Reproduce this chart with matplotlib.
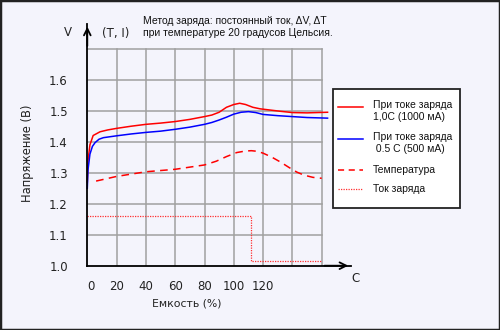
import matplotlib.pyplot as plt
from matplotlib.lines import Line2D
from matplotlib.patches import Rectangle

# Charge curves (capacity %, volts)
cap_fast = [0, 0.5, 1.8, 4, 8.7, 14, 20, 30, 40, 50, 60, 70, 80, 85, 90, 95, 100, 104, 108, 113, 118, 125, 132, 140, 150, 164]
volt_fast = [1.27, 1.34, 1.39, 1.42, 1.432, 1.438, 1.443, 1.45, 1.456, 1.46, 1.465, 1.472, 1.481, 1.486, 1.495, 1.511,
             1.520, 1.524, 1.52, 1.511, 1.506, 1.502, 1.498, 1.494, 1.493, 1.495]

cap_slow = [0, 0.5, 1.8, 3.5, 5.3, 8, 11, 20, 30, 40, 50, 60, 70, 80, 85, 90, 95, 100, 105, 110, 115, 120, 130, 140, 150, 164]
volt_slow = [1.25, 1.31, 1.36, 1.385, 1.397, 1.408, 1.413, 1.419, 1.425, 1.430, 1.434, 1.440, 1.447, 1.456, 1.462, 1.470,
             1.479, 1.489, 1.495, 1.497, 1.494, 1.488, 1.484, 1.481, 1.478, 1.476]

cap_temp = [6, 20, 40, 60, 80, 88, 95, 102, 108, 112, 116, 120, 126, 132, 138, 143, 148, 154, 160]
temp = [1.273, 1.288, 1.303, 1.311, 1.325, 1.337, 1.352, 1.365, 1.370, 1.371, 1.369, 1.363, 1.350, 1.334, 1.316,
        1.302, 1.292, 1.285, 1.282]

cap_current = [0, 112, 112, 160]
current = [1.161, 1.161, 1.016, 1.016]

x_ticks = [0, 20, 40, 60, 80, 100, 120]
y_ticks = [1.0, 1.1, 1.2, 1.3, 1.4, 1.5, 1.6]

W, H = 500, 330
bg = '#f4f4fc'


def fx(px):
    return px / W


def fy(py):
    return 1 - py / H


fig = plt.figure(figsize=(5, 3.3), dpi=100, facecolor=bg)
ax = fig.add_axes([fx(87.3), fy(265.7), fx(351) - fx(87.3), fy(23.9) - fy(265.7)])
ax.set_facecolor(bg)
ax.set_xlim(0, 180)
ax.set_ylim(1.0, 1.78)

# grid only inside the 0-160 / 1.0-1.7 box
for gx in range(20, 161, 20):
    ax.plot([gx, gx], [1.0, 1.7], color='#a0a0a0', lw=1.1, zorder=1)
for gy in [1.1, 1.2, 1.3, 1.4, 1.5, 1.6, 1.7]:
    ax.plot([0, 160], [gy, gy], color='#a0a0a0', lw=1.1, zorder=1)

ax.plot(cap_fast, volt_fast, color='#ff0000', lw=1.1, zorder=3, clip_on=False)
ax.plot(cap_slow, volt_slow, color='#0000ff', lw=1.1, zorder=3, clip_on=False)
ax.plot(cap_temp, temp, color='#ff0000', lw=1.1, ls=(0, (5, 3.5)), zorder=3)
ax.plot(cap_current, current, color='#ff3030', lw=0.9, ls=(0, (1, 1)), zorder=3)

for s in ['top', 'right']:
    ax.spines[s].set_visible(False)
for s in ['left', 'bottom']:
    ax.spines[s].set_color('black')
    ax.spines[s].set_linewidth(1.3)
    ax.spines[s].set_zorder(4)

ax.set_xticks([2.5] + x_ticks[1:])
ax.set_xticklabels([str(t) for t in x_ticks])
ax.set_yticks(y_ticks)
ax.set_yticklabels(['%.1f' % t for t in y_ticks])
ax.tick_params(axis='both', length=0, labelsize=8.5, colors='#222222')
ax.tick_params(axis='x', pad=10)
ax.tick_params(axis='y', pad=14)

# axis arrows
ax.annotate('', xy=(0, 1.78), xytext=(0, 1.70),
            arrowprops=dict(arrowstyle='->', color='black', lw=1.3, mutation_scale=12), annotation_clip=False)
ax.annotate('', xy=(180, 1.0), xytext=(160, 1.0),
            arrowprops=dict(arrowstyle='->', color='black', lw=1.3, mutation_scale=12), annotation_clip=False)

fig.text(fx(68), fy(33), 'V', fontsize=8.5, ha='center', va='center', color='#222222')
fig.text(fx(116), fy(33), '(T, I)', fontsize=8.5, ha='center', va='center', color='#222222')
fig.text(fx(355), fy(279), 'C', fontsize=8.5, ha='center', va='center', color='#222222')
fig.text(fx(186.5), fy(303), 'Емкость (%)', fontsize=7.8, ha='center', va='center', color='#222222')
fig.text(fx(28), fy(153), 'Напряжение (В)', fontsize=8.3, ha='center', va='center', rotation=90, color='#222222')

fig.text(fx(143), fy(21), 'Метод заряда: постоянный ток, ΔV, ΔT', fontsize=7.5, family='Liberation Sans',
         ha='left', va='center', color='#111111')
fig.text(fx(143), fy(33.5), 'при температуре 20 градусов Цельсия.', fontsize=7.5, family='Liberation Sans',
         ha='left', va='center', color='#111111')

# legend drawn by hand to keep the samples beside the first text line
fig.add_artist(Rectangle((fx(333), fy(208)), fx(460) - fx(333), fy(89) - fy(208), transform=fig.transFigure,
                         facecolor='white', edgecolor='#222222', lw=1.3))
entries = [
    (107, dict(color='#ff0000', lw=1.1), ['При токе заряда', '1,0С (1000 мА)']),
    (139, dict(color='#0000ff', lw=1.1), ['При токе заряда', ' 0.5 С (500 мА)']),
    (170, dict(color='#ff0000', lw=1.1, ls=(0, (4, 3))), ['Температура']),
    (188.5, dict(color='#ff3030', lw=0.9, ls=(0, (1, 1))), ['Ток заряда']),
]
for py, style, lines in entries:
    fig.add_artist(Line2D([fx(338), fx(363)], [fy(py), fy(py)], transform=fig.transFigure, **style))
    if len(lines) > 1:
        fig.text(fx(373), fy(py - 7), '\n'.join(lines), fontsize=7.5, family='Liberation Sans',
                 ha='left', va='top', linespacing=1.3, color='#111111')
    else:
        fig.text(fx(373), fy(py), lines[0], fontsize=7.5, family='Liberation Sans',
                 ha='left', va='center', color='#111111')

# outer frame of the picture
fig.add_artist(Rectangle((0, 0), 1, 1, transform=fig.transFigure, fill=False, edgecolor='#222222', lw=2.5))

fig.savefig('out.png', dpi=100, facecolor=bg)
